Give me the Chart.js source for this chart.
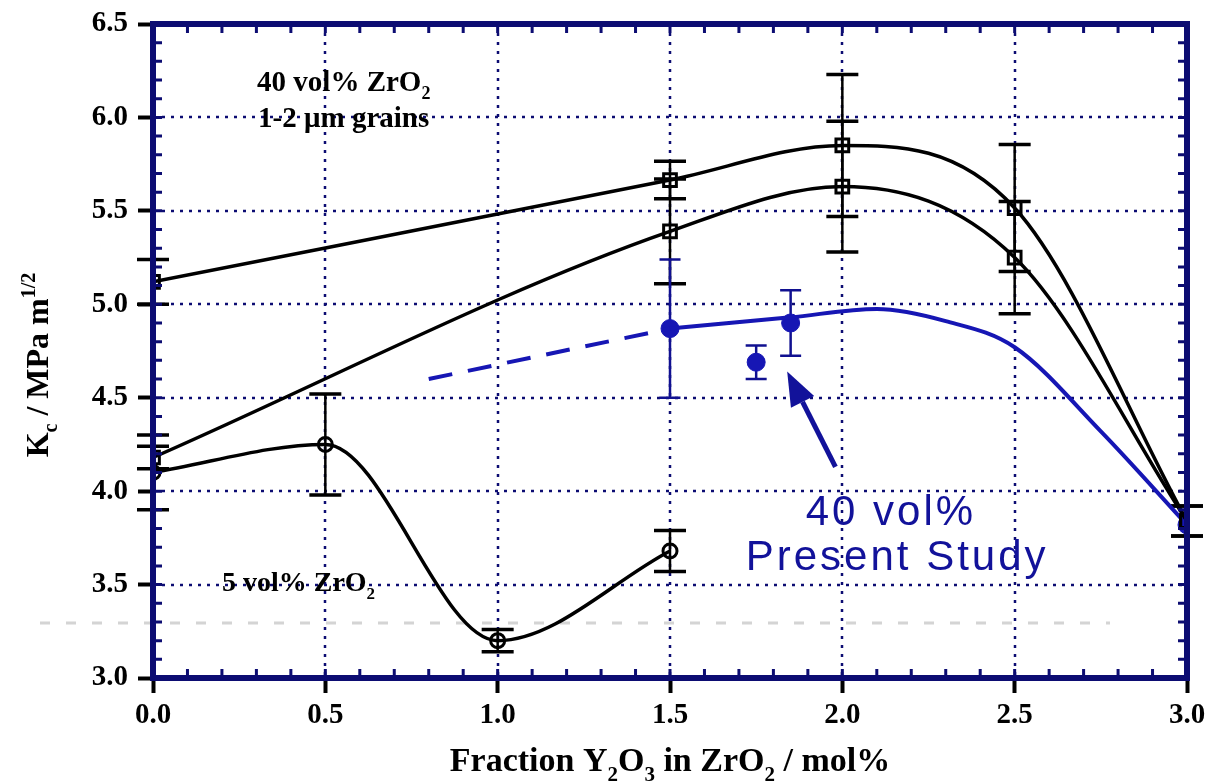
<!DOCTYPE html>
<html><head><meta charset="utf-8">
<script src="https://cdn.jsdelivr.net/npm/chart.js@4"></script>
<style>html,body{margin:0;padding:0;background:#fff}#wrap{width:1207px;height:783px}</style>
</head><body><div id="wrap"><canvas id="c" width="1207" height="783"></canvas></div>
<script>
// ---- data ----
const xTickValues = [0, 0.5, 1.0, 1.5, 2.0, 2.5, 3.0];
const xTickLabels = ['0.0', '0.5', '1.0', '1.5', '2.0', '2.5', '3.0'];
const yTickValues = [3.0, 3.5, 4.0, 4.5, 5.0, 5.5, 6.0, 6.5];
const yTickLabels = ['3.0', '3.5', '4.0', '4.5', '5.0', '5.5', '6.0', '6.5'];

const upperX = [0, 1.5, 2.0, 2.5, 3.0];
const upperY = [5.12, 5.665, 5.85, 5.515, 3.84];
const upperErr = [0.12, 0.10, 0.38, 0.34, 0.08];

const lowerX = [0, 1.5, 2.0, 2.5, 3.0];
const lowerY = [4.18, 5.39, 5.63, 5.25, 3.84];
const lowerErr = [0.06, 0.28, 0.35, 0.30, 0.08];

const fiveX = [0, 0.5, 1.0, 1.5];
const fiveY = [4.10, 4.25, 3.20, 3.68];
const fiveErr = [0.20, 0.27, 0.06, 0.11];

const presentX = [1.5, 1.75, 1.85, 3.0];
const presentY = [4.87, 4.69, 4.90, 3.82];
const presentErr = [0.37, 0.09, 0.175, 0];

const presentCurveX = [1.5, 1.85, 2.1, 2.3, 2.5, 2.75, 3.0];
const presentCurveY = [4.87, 4.93, 4.975, 4.91, 4.77, 4.32, 3.82];

const presentDashX = [0.8, 1.5];
const presentDashY = [4.60, 4.87];

// ---- styling ----
const NAVY = '#0c0c72';
const BLUE = '#1616b4';
const SERIF = '"Liberation Serif", "Times New Roman", serif';
const SANS = '"Liberation Sans", Arial, sans-serif';

const pts = (xs, ys) => xs.map((x, i) => ({ x, y: ys[i] }));

const gridPlugin = {
  id: 'gridPlugin',
  beforeDatasetsDraw(chart) {
    const { ctx, chartArea: a, scales: { x, y } } = chart;
    ctx.save();
    ctx.strokeStyle = NAVY; ctx.lineWidth = 2.5; ctx.setLineDash([3, 6]);
    xTickValues.slice(1, -1).forEach(v => {
      const px = Math.round(x.getPixelForValue(v));
      ctx.beginPath(); ctx.moveTo(px, a.top); ctx.lineTo(px, a.bottom); ctx.stroke();
    });
    yTickValues.slice(1, -1).forEach(v => {
      const py = Math.round(y.getPixelForValue(v));
      ctx.beginPath(); ctx.moveTo(a.left, py); ctx.lineTo(a.right, py); ctx.stroke();
    });
    // faint scan artefact line
    ctx.strokeStyle = '#d4d4d4'; ctx.lineWidth = 3; ctx.setLineDash([10, 16]);
    const gy = y.getPixelForValue(3.295);
    ctx.beginPath(); ctx.moveTo(40, gy); ctx.lineTo(1110, gy); ctx.stroke();
    ctx.restore();
  }
};

const errorBars = {
  id: 'errorBars',
  beforeDatasetsDraw(chart) {
    const { ctx, scales: { x, y } } = chart;
    chart.data.datasets.forEach(ds => {
      if (!ds.errors) return;
      ctx.save();
      ctx.strokeStyle = ds.errColor; ctx.lineWidth = ds.errWidth;
      ds.data.forEach((p, j) => {
        const e = ds.errors[j];
        if (!e) return;
        const px = x.getPixelForValue(p.x);
        const t = y.getPixelForValue(p.y + e), b = y.getPixelForValue(p.y - e);
        const h = ds.capWidth / 2;
        ctx.beginPath(); ctx.moveTo(px, t); ctx.lineTo(px, b); ctx.stroke();
        ctx.lineWidth = ds.capThick;
        ctx.beginPath();
        ctx.moveTo(px - h, t); ctx.lineTo(px + h, t);
        ctx.moveTo(px - h, b); ctx.lineTo(px + h, b);
        ctx.stroke();
        ctx.lineWidth = ds.errWidth;
      });
      ctx.restore();
    });
  }
};

const framePlugin = {
  id: 'framePlugin',
  afterDatasetsDraw(chart) {
    const { ctx, chartArea: a, scales: { x, y } } = chart;
    ctx.save();
    ctx.strokeStyle = NAVY; ctx.lineWidth = 3;
    const tl = 9;
    for (let i = 0; i <= 30; i++) {
      const v = i / 10;
      const px = x.getPixelForValue(v);
      ctx.beginPath();
      ctx.moveTo(px, a.top); ctx.lineTo(px, a.top + tl);
      ctx.moveTo(px, a.bottom); ctx.lineTo(px, a.bottom - tl);
      ctx.stroke();
    }
    for (let i = 30; i <= 65; i++) {
      const v = i / 10;
      const py = y.getPixelForValue(v);
      ctx.beginPath();
      ctx.moveTo(a.left, py); ctx.lineTo(a.left + tl, py);
      ctx.moveTo(a.right, py); ctx.lineTo(a.right - tl, py);
      ctx.stroke();
    }
    ctx.lineWidth = 6;
    ctx.strokeRect(a.left, a.top, a.right - a.left, a.bottom - a.top);
    ctx.restore();
  }
};

function drawRich(ctx, parts, x, y, size, family, align) {
  // parts: [text, 'n'|'sub'|'sup']
  const fs = p => p[1] === 'n' ? size : Math.round(size * 0.62);
  let total = 0;
  parts.forEach(p => { ctx.font = `bold ${fs(p)}px ${family}`; total += ctx.measureText(p[0]).width; });
  let cx = align === 'center' ? x - total / 2 : x;
  parts.forEach(p => {
    ctx.font = `bold ${fs(p)}px ${family}`;
    const dy = p[1] === 'sub' ? size * 0.28 : p[1] === 'sup' ? -size * 0.42 : 0;
    ctx.fillText(p[0], cx, y + dy);
    cx += ctx.measureText(p[0]).width;
  });
}

const labelsPlugin = {
  id: 'labelsPlugin',
  afterDraw(chart) {
    const { ctx, scales: { x, y } } = chart;
    ctx.save();
    ctx.fillStyle = '#000';
    ctx.textBaseline = 'alphabetic';
    ctx.textAlign = 'left';
    // annotations
    drawRich(ctx, [['40 vol% ZrO', 'n'], ['2', 'sub']], x.getPixelForValue(0.302), y.getPixelForValue(6.14), 29, SERIF, 'left');
    drawRich(ctx, [['1-2 \u03bcm grains', 'n']], x.getPixelForValue(0.305), y.getPixelForValue(5.95), 29, SERIF, 'left');
    drawRich(ctx, [['5 vol% ZrO', 'n'], ['2', 'sub']], x.getPixelForValue(0.2), y.getPixelForValue(3.465), 28, SERIF, 'left');

    // axis titles
    drawRich(ctx, [['Fraction Y', 'n'], ['2', 'sub'], ['O', 'n'], ['3', 'sub'], [' in ZrO', 'n'], ['2', 'sub'], [' / mol%', 'n']],
      (chart.chartArea.left + chart.chartArea.right) / 2, 771, 34, SERIF, 'center');
    ctx.save();
    ctx.translate(48, 365);
    ctx.rotate(-Math.PI / 2);
    drawRich(ctx, [['K', 'n'], ['c', 'sub'], [' / MPa m', 'n'], ['1/2', 'sup']], 0, 0, 32, SERIF, 'center');
    ctx.restore();

    // blue annotation
    ctx.fillStyle = '#12129a';
    ctx.font = `42px ${SANS}`;
    ctx.textAlign = 'center';
    ctx.textBaseline = 'middle';
    ctx.letterSpacing = '3px';
    ctx.fillText('40 vol%', x.getPixelForValue(2.141), y.getPixelForValue(3.883));
    ctx.fillText('Present Study', x.getPixelForValue(2.159), y.getPixelForValue(3.642));
    ctx.letterSpacing = '0px';

    // arrow
    const fx = x.getPixelForValue(1.98), fy = y.getPixelForValue(4.13);
    const tx = x.getPixelForValue(1.84), ty = y.getPixelForValue(4.64);
    const ang = Math.atan2(ty - fy, tx - fx);
    const hl = 34, hw = 13;
    const bx = tx - hl * Math.cos(ang), by = ty - hl * Math.sin(ang);
    ctx.strokeStyle = '#12129a'; ctx.lineWidth = 5;
    ctx.beginPath(); ctx.moveTo(fx, fy); ctx.lineTo(bx, by); ctx.stroke();
    ctx.beginPath();
    ctx.moveTo(tx, ty);
    ctx.lineTo(bx + hw * Math.sin(ang), by - hw * Math.cos(ang));
    ctx.lineTo(bx - hw * Math.sin(ang), by + hw * Math.cos(ang));
    ctx.closePath(); ctx.fill();
    ctx.restore();
  }
};

const blackSeries = (data, errs, style, radius) => ({
  data, errors: errs, errColor: '#000', errWidth: 2.5, capThick: 3.5, capWidth: 32,
  showLine: true, borderColor: '#000', borderWidth: 3.5,
  cubicInterpolationMode: 'monotone',
  pointStyle: style, pointRadius: radius, pointBorderWidth: 3,
  pointBorderColor: '#000', pointBackgroundColor: 'rgba(0,0,0,0)'
});

new Chart(document.getElementById('c'), {
  type: 'scatter',
  data: {
    datasets: [
      Object.assign(blackSeries(pts(upperX, upperY), upperErr, 'rect', 9), { label: '40 vol% ZrO2 (a)' }),
      Object.assign(blackSeries(pts(lowerX, lowerY), lowerErr, 'rect', 9), { label: '40 vol% ZrO2 (b)' }),
      Object.assign(blackSeries(pts(fiveX, fiveY), fiveErr, 'circle', 7), { label: '5 vol% ZrO2' }),
      {
        label: 'Present study curve', data: pts(presentCurveX, presentCurveY), showLine: true,
        borderColor: BLUE, borderWidth: 4, pointRadius: 0, cubicInterpolationMode: 'monotone'
      },
      {
        label: 'Present study extrapolation', data: pts(presentDashX, presentDashY), showLine: true,
        borderColor: BLUE, borderWidth: 4, borderDash: [24, 16], pointRadius: 0
      },
      {
        label: '40 vol% Present Study', data: pts(presentX, presentY), showLine: false,
        errors: presentErr, errColor: '#101090', errWidth: 2.5, capThick: 2.5, capWidth: 21,
        pointStyle: 'circle', pointRadius: 9, pointBackgroundColor: BLUE, pointBorderColor: BLUE, pointBorderWidth: 1
      }
    ]
  },
  options: {
    responsive: false, animation: false, devicePixelRatio: 1,
    layout: { padding: { left: 0, top: 24, right: 20, bottom: 0 } },
    plugins: { legend: { display: false }, tooltip: { enabled: false } },
    scales: {
      x: {
        type: 'linear', min: 0, max: 3,
        afterBuildTicks: s => { s.ticks = xTickValues.map(v => ({ value: v })); },
        afterFit: s => { s.height = 105; s.paddingLeft = 0; s.paddingRight = 0; },
        ticks: {
          callback: (v) => xTickLabels[xTickValues.indexOf(v)],
          font: { family: SERIF, weight: 'bold', size: 29 }, color: '#000', padding: 5, maxRotation: 0
        },
        grid: { drawOnChartArea: false, drawTicks: true, tickLength: 15, tickColor: '#000', tickWidth: 4 },
        border: { display: false }
      },
      y: {
        type: 'linear', min: 3, max: 6.5,
        afterBuildTicks: s => { s.ticks = yTickValues.map(v => ({ value: v })); },
        afterFit: s => { s.width = 153; s.paddingTop = 0; s.paddingBottom = 0; },
        ticks: {
          callback: (v) => yTickLabels[yTickValues.indexOf(v)],
          font: { family: SERIF, weight: 'bold', size: 29 }, color: '#000', padding: 10
        },
        grid: { drawOnChartArea: false, drawTicks: true, tickLength: 15, tickColor: '#000', tickWidth: 4 },
        border: { display: false }
      }
    }
  },
  plugins: [gridPlugin, errorBars, framePlugin, labelsPlugin]
});
</script>
</body></html>
